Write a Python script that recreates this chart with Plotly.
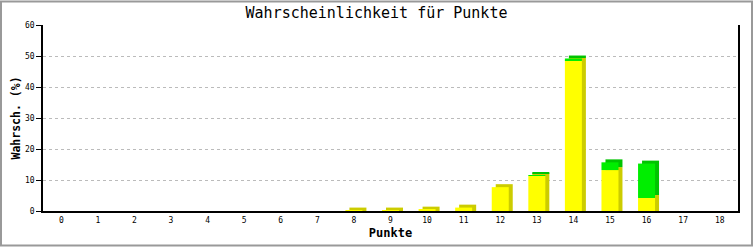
import plotly.graph_objects as go

categories = list(range(19))
tick_labels = [str(c) for c in categories]
yellow_values = [0, 0, 0, 0, 0, 0, 0, 0, 0.15, 0.15, 0.45, 1.1, 7.7, 11.3, 48.6, 13.2, 4.2, 0, 0]
green_values = [0, 0, 0, 0, 0, 0, 0, 0, 0, 0, 0, 0, 0, 0.1, 0.6, 2.5, 11.1, 0, 0]

W, H = 753, 250
ML, MR, MT, MB = 43, 15, 25, 36
PW, PH = W - ML - MR, H - MT - MB
YMAX = 60
XR = (-0.5, 18.5)

px_per_unit_y = PH / YMAX
px_per_cat = PW / (XR[1] - XR[0])
lift = 3 / px_per_unit_y          # 3D depth (vertical) in data units
shift = 4 / px_per_cat            # 3D depth (horizontal) in category units
bw = 17 / px_per_cat              # front face width

YEL, YEL_D = "#ffff00", "#cccc00"
GRN, GRN_D = "#00ee00", "#00c400"

y_sh = [v + lift if v > 0 else 0 for v in yellow_values]
g_base = [y + lift for y in yellow_values]
g_sh = [g if g > 0 else 0 for g in green_values]

fig = go.Figure()
common = dict(width=bw, marker_line_width=0, hoverinfo="skip", showlegend=False)
# 3D side/top faces
fig.add_trace(go.Bar(x=categories, y=y_sh, base=[0] * 19, offset=-bw / 2 + shift,
                     marker_color=YEL_D, **common))
fig.add_trace(go.Bar(x=categories, y=g_sh, base=g_base, offset=-bw / 2 + shift,
                     marker_color=GRN_D, **common))
# front faces
fig.add_trace(go.Bar(x=categories, y=yellow_values, base=[0] * 19, offset=-bw / 2,
                     marker_color=YEL, **common))
fig.add_trace(go.Bar(x=categories, y=green_values, base=yellow_values, offset=-bw / 2,
                     marker_color=GRN, **common))

mono = "DejaVu Sans Mono"
fig.update_layout(
    width=W, height=H,
    margin=dict(l=ML, r=MR, t=MT, b=MB, pad=0),
    paper_bgcolor="white", plot_bgcolor="white",
    barmode="overlay",
    title=dict(text="Wahrscheinlichkeit für Punkte", x=0.5, xanchor="center",
               y=1 - 13 / H, yanchor="middle",
               font=dict(family=mono, size=15, color="black")),
    xaxis=dict(range=list(XR), tickmode="array", tickvals=categories, ticktext=tick_labels,
               showgrid=False, zeroline=False, showline=True, linecolor="black", linewidth=2,
               ticks="", tickfont=dict(family=mono, size=8, color="black"),
               title=dict(text="<b>Punkte</b>", font=dict(family=mono, size=12, color="black"),
                          standoff=5),
               fixedrange=True),
    yaxis=dict(range=[0, YMAX], tickmode="array", tickvals=[0, 10, 20, 30, 40, 50, 60],
               showgrid=True, gridcolor="#bbbbbb", griddash="3px,3px", gridwidth=1,
               zeroline=False, showline=True, linecolor="black", linewidth=1.5, mirror=True,
               ticks="outside", ticklen=5, tickcolor="black", tickwidth=1,
               tickfont=dict(family=mono, size=8, color="black"),
               title=dict(text="<b>Wahrsch. (%)</b>", font=dict(family=mono, size=11.5, color="black"),
                          standoff=2),
               fixedrange=True),
    shapes=[dict(type="rect", xref="paper", yref="paper",
                 x0=(-ML + 1) / PW, x1=(PW + MR - 1) / PW,
                 y0=(-MB + 1) / PH, y1=(PH + MT - 1) / PH,
                 line=dict(color="#999999", width=2), fillcolor="rgba(0,0,0,0)", layer="above")],
)

fig.write_html("out.html")
